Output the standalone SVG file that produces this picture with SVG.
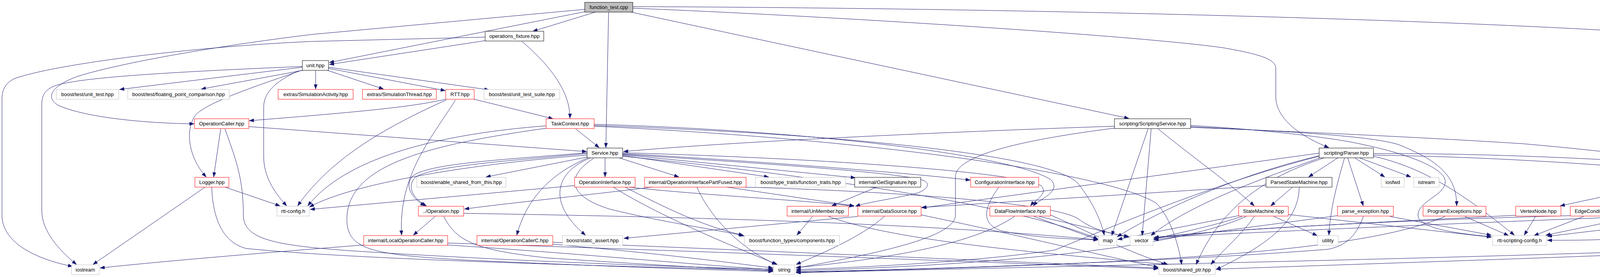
<svg xmlns="http://www.w3.org/2000/svg" width="4707" height="709" viewBox="0 0 4707 709">
<style>
.nd rect{fill:#fff;stroke-width:1}
.b rect{stroke:#000}
.r rect{stroke:#ff0000}
.g rect{stroke:#bfbfbf}
.root rect{fill:#bfbfbf;stroke:#000}
.nd text{font-family:"Liberation Sans",Arial,sans-serif;font-size:13px;fill:#000;text-anchor:middle}
#edges path{fill:none;stroke:#191970;stroke-width:1;marker-end:url(#ah)}
</style>
<defs>
<marker id="ah" markerUnits="userSpaceOnUse" markerWidth="12" markerHeight="9" refX="12" refY="4.5" orient="auto">
<path d="M0,0 L12,4.5 L0,9 z" fill="#191970" stroke="#191970" stroke-width="0.5"/>
</marker>
</defs>
<rect width="4707" height="709" fill="#fff"/>
<g id="edges">
<path d="M1524,31 L1364,80"/>
<path d="M1497,30 L843,160"/>
<path d="M1497,24 L800,88 C600,112 330,155 200,195 C130,220 115,250 150,270 C230,305 400,316 497,317"/>
<path d="M1558,31 L1551,378"/>
<path d="M1615,31 L2890,303"/>
<path d="M1620,21 C2100,40 2900,90 3130,122 C3220,138 3266,150 3266,175 L3266,247 C3266,300 3320,345 3402,378"/>
<path d="M1620,17 C2500,20 3600,45 4220,84 C4420,100 4553,130 4553,175 L4553,323 C4553,400 4450,440 4364,458"/>
<path d="M1242,104 L843,165"/>
<path d="M1242,95 L800,106 C520,118 160,160 40,200 C12,212 5,232 5,255 L5,550 C5,625 100,665 186,682"/>
<path d="M1336,106 C1400,160 1460,230 1459,303"/>
<path d="M774,172 L306,229"/>
<path d="M776,180 L515,228"/>
<path d="M774,170 C500,182 190,196 135,222 C110,234 107,250 107,270 L107,540 C107,590 150,640 196,677"/>
<path d="M772,180 C650,222 530,262 500,295 C470,340 488,410 528,453"/>
<path d="M765,181 C700,210 675,240 675,275 L675,400 C675,450 700,490 734,527"/>
<path d="M808,180 L808,228"/>
<path d="M838,180 L982,228"/>
<path d="M841,175 L1140,232"/>
<path d="M841,172 L1252,230"/>
<path d="M1214,254 L1416,304"/>
<path d="M1141,254 C1050,275 900,288 638,309"/>
<path d="M1142,256 C1000,320 850,400 762,527"/>
<path d="M1166,256 C1100,360 1020,450 1028,602"/>
<path d="M565,330 L547,453"/>
<path d="M637,324 L1502,388"/>
<path d="M576,330 C600,400 623,450 623,550 C623,612 700,628 900,642 C1300,668 1750,684 1979,689"/>
<path d="M525,479 L238,677"/>
<path d="M576,479 L717,527"/>
<path d="M542,479 C545,560 570,620 630,636 C950,668 1700,684 1979,692"/>
<path d="M1474,330 L1534,378"/>
<path d="M1398,322 C1100,345 880,410 788,527"/>
<path d="M1400,328 C1100,370 890,420 888,560 C888,640 950,652 1200,666 C1600,684 1800,690 1979,695"/>
<path d="M1521,318 C2100,335 2600,400 2690,460 C2720,490 2660,510 2645,527"/>
<path d="M1521,321 C2200,345 2700,400 2760,470 C2800,520 2820,570 2827,602"/>
<path d="M1521,323 C2300,360 2850,450 2960,520 C3000,560 3020,640 3025,677"/>
<path d="M1549,404 L1549,453"/>
<path d="M1503,402 L1244,453"/>
<path d="M1503,397 C1200,420 900,470 792,530"/>
<path d="M1503,393 C1300,412 1100,425 1062,455 C1040,480 1060,510 1092,527"/>
<path d="M1503,391 C1300,408 1090,418 1055,452 C1035,478 1055,508 1088,527"/>
<path d="M1505,404 C1420,440 1350,500 1323,602"/>
<path d="M1512,404 C1420,440 1400,520 1499,602"/>
<path d="M1520,405 C1450,450 1450,500 1560,535 C1700,570 1850,590 1905,604"/>
<path d="M1585,404 L1738,453"/>
<path d="M1594,398 L1968,453"/>
<path d="M1594,396 L2190,455"/>
<path d="M1594,393 C1900,410 2300,440 2484,461"/>
<path d="M1594,391 C2100,405 2600,440 2665,475 C2685,495 2650,512 2638,527"/>
<path d="M1594,395 C1900,415 2300,440 2365,462 C2385,472 2370,488 2345,495 C2280,510 2220,518 2190,528"/>
<path d="M1594,400 C2000,440 2600,520 2811,612"/>
<path d="M1471,475 L794,536"/>
<path d="M1570,479 C1700,560 1900,640 1990,677"/>
<path d="M1610,479 C1800,500 2100,515 2186,528"/>
<path d="M1600,479 C1700,530 1800,580 1903,602"/>
<path d="M1187,546 C1600,553 2300,565 2811,614"/>
<path d="M1114,554 L1058,602"/>
<path d="M1136,554 C1170,620 1220,640 1400,660 C1700,680 1850,688 1979,693"/>
<path d="M1677,478 C1500,500 1300,520 1189,535"/>
<path d="M1784,479 C1820,560 1900,640 1988,677"/>
<path d="M1861,479 L2187,527"/>
<path d="M1907,479 C2300,490 2700,520 2760,560 C2800,590 2850,600 2890,605"/>
<path d="M2244,479 L2129,527"/>
<path d="M2080,554 L2040,602"/>
<path d="M2121,554 C2300,620 2700,650 2985,677"/>
<path d="M2264,554 C2200,610 2100,650 2038,677"/>
<path d="M2196,554 L1597,610"/>
<path d="M2557,479 C2520,530 2510,570 2560,590 C2650,610 2750,612 2811,614"/>
<path d="M2597,554 C2500,620 2300,660 2038,685"/>
<path d="M2647,554 L2811,614"/>
<path d="M2660,554 L2889,607"/>
<path d="M2853,323 C2500,335 1900,360 1596,388"/>
<path d="M2853,328 C2600,360 2450,400 2446,450 L2446,550 C2446,600 2300,640 2038,686"/>
<path d="M2939,330 L2846,603"/>
<path d="M2947,330 L2924,603"/>
<path d="M2965,330 C3050,400 3150,470 3211,527"/>
<path d="M3048,321 C3200,330 3350,345 3450,362 C3600,390 3700,430 3700,465 C3700,500 3630,515 3630,550 C3630,580 3700,595 3818,606"/>
<path d="M3048,324 C3250,335 3500,345 3580,370 C3680,410 3730,450 3729,527"/>
<path d="M3048,326 C3400,340 3700,355 3900,368 C4150,390 4350,415 4440,450 C4480,470 4500,500 4507,527"/>
<path d="M3425,404 L3350,453"/>
<path d="M3442,404 C3420,480 3405,540 3402,602"/>
<path d="M3450,404 L3490,527"/>
<path d="M3468,404 L3545,453"/>
<path d="M3480,404 L3612,453"/>
<path d="M3516,400 C3650,430 3750,500 3877,602"/>
<path d="M3516,393 C3700,393 3900,396 4260,417 C4340,425 4380,450 4390,490 C4400,540 4375,580 4363,602"/>
<path d="M3516,397 C3700,400 3900,407 4200,430 C4380,445 4470,480 4497,527"/>
<path d="M3377,392 L2360,532"/>
<path d="M3380,398 C3200,440 3000,520 2860,606"/>
<path d="M3385,402 C3250,450 3050,520 2946,603"/>
<path d="M3390,404 C3250,450 3130,520 3062,677"/>
<path d="M3377,400 C3100,470 2800,600 2700,640 C2500,670 2200,685 2038,690"/>
<path d="M3309,479 L3253,527"/>
<path d="M3326,479 C3325,560 3260,620 3113,690"/>
<path d="M3241,475 L2359,531"/>
<path d="M3261,554 L3372,603"/>
<path d="M3298,549 L3818,607"/>
<path d="M3211,554 C3180,600 3130,640 3100,677"/>
<path d="M3171,552 L2861,613"/>
<path d="M3180,554 C3100,580 3000,600 2953,612"/>
<path d="M3190,554 C3000,640 2500,680 2038,693"/>
<path d="M3558,554 L3818,602"/>
<path d="M3490,554 C3470,610 3440,630 3400,638 C3000,670 2400,688 2038,696"/>
<path d="M3424,552 L2954,614"/>
<path d="M3750,554 L3862,603"/>
<path d="M3699,554 C3500,640 3000,675 2038,697"/>
<path d="M3931,554 L3902,602"/>
<path d="M3880,551 C3500,570 3100,590 2954,608"/>
<path d="M4054,554 L3927,603"/>
<path d="M4126,554 L4306,603"/>
<path d="M4020,552 C3700,560 3100,585 2954,611"/>
<path d="M4188,554 L3957,602"/>
<path d="M4217,479 L3994,527"/>
<path d="M4240,479 L4120,527"/>
<path d="M4266,479 L4253,527"/>
<path d="M4286,479 C4340,520 4340,580 4250,600 C4150,615 4050,615 3961,615"/>
<path d="M4309,479 L4472,527"/>
<path d="M4363,475 C4480,490 4560,510 4590,540 C4615,565 4620,580 4621,602"/>
<path d="M4438,549 L3961,605"/>
<path d="M4486,554 L4375,603"/>
<path d="M4529,554 L4602,602"/>
<path d="M4505,554 C4470,610 4440,632 4400,636 C3800,660 2800,680 2038,698"/>
<path d="M4510,554 C4490,620 4460,640 4420,641 C4000,660 3500,675 3113,689"/>
<path d="M4438,545 C4000,560 3300,590 2954,608"/>
<path d="M1146,627 C1500,650 1800,680 1979,690"/>
<path d="M931,627 C700,645 400,670 256,686"/>
<path d="M1146,622 C1700,640 2500,670 2965,688"/>
<path d="M1415,625 C1700,650 1850,670 1979,686"/>
<path d="M1415,620 C1900,640 2600,670 2965,686"/>
<path d="M2358,550 C2600,600 2800,650 2965,684"/>
<path d="M2689,550 C2800,600 2900,650 2990,677"/>
</g>
<g id="n_fn" class="nd root"><rect x="1497" y="6" width="123" height="25"/><text x="1558.5" y="23">function_test.cpp</text></g>
<g id="n_opsfix" class="nd b"><rect x="1242" y="80" width="150" height="25"/><text x="1317" y="97">operations_fixture.hpp</text></g>
<g id="n_unit" class="nd b"><rect x="774" y="155" width="67" height="25"/><text x="807.5" y="172">unit.hpp</text></g>
<g id="n_ut" class="nd g"><rect x="144" y="229" width="160" height="25"/><text x="224" y="246">boost/test/unit_test.hpp</text></g>
<g id="n_fpc" class="nd g"><rect x="327" y="229" width="260" height="25"/><text x="457" y="246">boost/test/floating_point_comparison.hpp</text></g>
<g id="n_simact" class="nd r"><rect x="712" y="229" width="192" height="25"/><text x="808" y="246">extras/SimulationActivity.hpp</text></g>
<g id="n_simthr" class="nd r"><rect x="928" y="229" width="189" height="25"/><text x="1022.5" y="246">extras/SimulationThread.hpp</text></g>
<g id="n_rtt" class="nd r"><rect x="1141" y="229" width="73" height="25"/><text x="1177.5" y="246">RTT.hpp</text></g>
<g id="n_uts" class="nd g"><rect x="1239" y="229" width="194" height="25"/><text x="1336" y="246">boost/test/unit_test_suite.hpp</text></g>
<g id="n_opcaller" class="nd r"><rect x="498" y="304" width="139" height="25"/><text x="567.5" y="321">OperationCaller.hpp</text></g>
<g id="n_taskctx" class="nd r"><rect x="1398" y="304" width="123" height="25"/><text x="1459.5" y="321">TaskContext.hpp</text></g>
<g id="n_scrsvc" class="nd b"><rect x="2853" y="304" width="195" height="25"/><text x="2950.5" y="321">scripting/ScriptingService.hpp</text></g>
<g id="n_service" class="nd b"><rect x="1503" y="379" width="91" height="25"/><text x="1548.5" y="396">Service.hpp</text></g>
<g id="n_parser" class="nd b"><rect x="3377" y="379" width="139" height="25"/><text x="3446.5" y="396">scripting/Parser.hpp</text></g>
<g id="n_logger" class="nd r"><rect x="499" y="454" width="87" height="25"/><text x="542.5" y="471">Logger.hpp</text></g>
<g id="n_esft" class="nd g"><rect x="1067" y="454" width="228" height="25"/><text x="1181" y="471">boost/enable_shared_from_this.hpp</text></g>
<g id="n_opif" class="nd r"><rect x="1471" y="454" width="155" height="25"/><text x="1548.5" y="471">OperationInterface.hpp</text></g>
<g id="n_oipf" class="nd r"><rect x="1650" y="454" width="260" height="25"/><text x="1780" y="471">internal/OperationInterfacePartFused.hpp</text></g>
<g id="n_ftraits" class="nd g"><rect x="1934" y="454" width="231" height="25"/><text x="2049.5" y="471">boost/type_traits/function_traits.hpp</text></g>
<g id="n_getsig" class="nd b"><rect x="2188" y="454" width="169" height="25"/><text x="2272.5" y="471">internal/GetSignature.hpp</text></g>
<g id="n_confif" class="nd r"><rect x="2485" y="454" width="174" height="25"/><text x="2572" y="471">ConfigurationInterface.hpp</text></g>
<g id="n_psm" class="nd b"><rect x="3241" y="454" width="169" height="25"/><text x="3325.5" y="471">ParsedStateMachine.hpp</text></g>
<g id="n_iosfwd" class="nd g"><rect x="3536" y="454" width="59" height="25"/><text x="3565.5" y="471">iosfwd</text></g>
<g id="n_istream" class="nd g"><rect x="3619" y="454" width="65" height="25"/><text x="3651.5" y="471">istream</text></g>
<g id="n_fgraph" class="nd b"><rect x="4178" y="454" width="185" height="25"/><text x="4270.5" y="471">scripting/FunctionGraph.hpp</text></g>
<g id="n_rttcfg" class="nd g"><rect x="709" y="528" width="83" height="25"/><text x="750.5" y="545">rtt-config.h</text></g>
<g id="n_operation" class="nd r"><rect x="1071" y="528" width="116" height="25"/><text x="1129" y="545">../Operation.hpp</text></g>
<g id="n_unmember" class="nd r"><rect x="2015" y="528" width="157" height="25"/><text x="2093.5" y="545">internal/UnMember.hpp</text></g>
<g id="n_datasrc" class="nd r"><rect x="2196" y="528" width="162" height="25"/><text x="2277" y="545">internal/DataSource.hpp</text></g>
<g id="n_dfif" class="nd r"><rect x="2534" y="528" width="155" height="25"/><text x="2611.5" y="545">DataFlowInterface.hpp</text></g>
<g id="n_sm" class="nd r"><rect x="3171" y="528" width="127" height="25"/><text x="3234.5" y="545">StateMachine.hpp</text></g>
<g id="n_pexc" class="nd r"><rect x="3424" y="528" width="143" height="25"/><text x="3495.5" y="545">parse_exception.hpp</text></g>
<g id="n_progexc" class="nd r"><rect x="3643" y="528" width="161" height="25"/><text x="3723.5" y="545">ProgramExceptions.hpp</text></g>
<g id="n_vertex" class="nd r"><rect x="3880" y="528" width="116" height="25"/><text x="3938" y="545">VertexNode.hpp</text></g>
<g id="n_edgec" class="nd r"><rect x="4020" y="528" width="133" height="25"/><text x="4086.5" y="545">EdgeCondition.hpp</text></g>
<g id="n_cmdnop" class="nd r"><rect x="4177" y="528" width="136" height="25"/><text x="4245" y="545">CommandNOP.hpp</text></g>
<g id="n_progif" class="nd r"><rect x="4438" y="528" width="147" height="25"/><text x="4511.5" y="545">ProgramInterface.hpp</text></g>
<g id="n_loc" class="nd r"><rect x="931" y="603" width="215" height="25"/><text x="1038.5" y="620">internal/LocalOperationCaller.hpp</text></g>
<g id="n_occ" class="nd r"><rect x="1221" y="603" width="194" height="25"/><text x="1318" y="620">internal/OperationCallerC.hpp</text></g>
<g id="n_sassert" class="nd g"><rect x="1440" y="603" width="154" height="25"/><text x="1517" y="620">boost/static_assert.hpp</text></g>
<g id="n_ftcomp" class="nd g"><rect x="1906" y="603" width="243" height="25"/><text x="2027.5" y="620">boost/function_types/components.hpp</text></g>
<g id="n_map" class="nd g"><rect x="2813" y="603" width="46" height="25"/><text x="2836" y="620">map</text></g>
<g id="n_vector" class="nd g"><rect x="2893" y="603" width="59" height="25"/><text x="2922.5" y="620">vector</text></g>
<g id="n_utility" class="nd g"><rect x="3373" y="603" width="53" height="25"/><text x="3399.5" y="620">utility</text></g>
<g id="n_rsc" class="nd g"><rect x="3821" y="603" width="138" height="25"/><text x="3890" y="620">rtt-scripting-config.h</text></g>
<g id="n_rsf" class="nd b"><rect x="4279" y="603" width="137" height="25"/><text x="4347.5" y="620">rtt-scripting-fwd.hpp</text></g>
<g id="n_attrbase" class="nd r"><rect x="4543" y="603" width="158" height="25"/><text x="4622" y="620">base/AttributeBase.hpp</text></g>
<g id="n_iostream" class="nd g"><rect x="183" y="678" width="71" height="25"/><text x="218.5" y="695">iostream</text></g>
<g id="n_string" class="nd g"><rect x="1980" y="678" width="55" height="25"/><text x="2007.5" y="695">string</text></g>
<g id="n_sharedptr" class="nd g"><rect x="2967" y="678" width="144" height="25"/><text x="3039" y="695">boost/shared_ptr.hpp</text></g>
</svg>
